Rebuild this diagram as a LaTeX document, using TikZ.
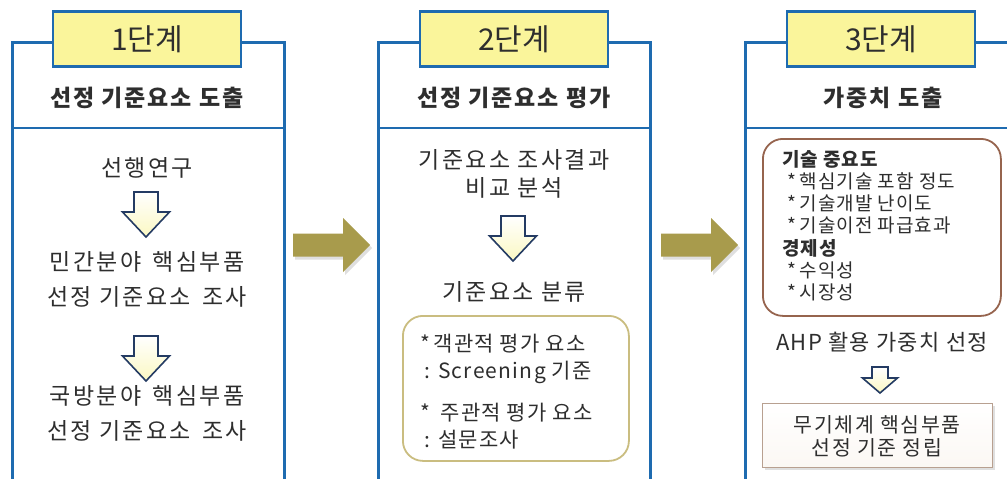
\documentclass[tikz,border=0pt]{standalone}
\usepackage{fontspec}
\setmainfont{Noto Sans CJK KR}
\usetikzlibrary{shadows}
\definecolor{pblue}{HTML}{1E6BB0}
\definecolor{tagy}{HTML}{FAF59B}
\definecolor{olivec}{HTML}{A89B4C}
\definecolor{navy}{HTML}{243B63}
\definecolor{khaki}{HTML}{CABD80}
\definecolor{brownb}{HTML}{96644E}
\definecolor{fbox}{HTML}{B8A090}
\definecolor{txt}{HTML}{2E2E2E}
\definecolor{arrfill}{HTML}{FBF8C2}
\begin{document}
\begin{tikzpicture}[x=1pt,y=-1pt,
  panel/.style={draw=pblue, line width=2.6pt, fill=white, minimum width=272pt, minimum height=470pt, anchor=north west, inner sep=0pt},
  tag/.style={draw=pblue, line width=2.6pt, fill=tagy, minimum width=188pt, minimum height=55pt, inner sep=0pt, font=\fontsize{30}{34}\selectfont, text=txt},
  header/.style={font=\fontsize{23}{26}\selectfont\bfseries\addfontfeature{LetterSpace=8}, text=txt},
  body/.style={font=\fontsize{23}{35}\selectfont\addfontfeature{LetterSpace=10}, text=txt, align=center, inner sep=0pt},
  downarr/.style={draw=navy, line width=1.6pt, top color=white, bottom color=arrfill, line join=miter},
  bigarr/.style={fill=olivec, draw=none, drop shadow={opacity=0.25, shadow xshift=2pt, shadow yshift=-3pt}},
  roundbox/.style={draw=#1, line width=1.8pt, rounded corners=20pt, fill=white, inner sep=0pt, anchor=north west},
  boxtext/.style={font=\fontsize{21}{27}\selectfont\addfontfeature{LetterSpace=6}, text=txt, align=left, anchor=west, inner sep=0pt},
  smalltext/.style={font=\fontsize{19}{22.2}\selectfont\addfontfeature{LetterSpace=5}, text=txt, align=left, anchor=north west, inner sep=0pt},
]
\useasboundingbox (0,0) rectangle (1007,479);
\fill[white] (0,0) rectangle (1007,479);

% panels
\node[panel] (p1) at (11,41) {};
\node[panel] (p2) at (377,41) {};
\node[panel] (p3) at (744,41) {};
\draw[pblue, line width=2.6pt] (p1.west |- 0,128) -- (p1.east |- 0,128);
\draw[pblue, line width=2.6pt] (p2.west |- 0,128) -- (p2.east |- 0,128);
\draw[pblue, line width=2.6pt] (p3.west |- 0,128) -- (p3.east |- 0,128);

% tags
\node[tag] (t1) at (147,39) {1단계};
\node[tag] (t2) at (514,39) {2단계};
\node[tag] (t3) at (881,39) {3단계};

% headers
\node[header] (h1) at (147,98) {선정 기준요소 도출};
\node[header] (h2) at (514,98) {선정 기준요소 평가};
\node[header] (h3) at (883,98) {가중치 도출};

% down arrows (top centre coordinates)
\coordinate (d1) at (146,192);
\coordinate (d2) at (146,336);
\coordinate (d3) at (513,216);
\coordinate (d4) at (880,367);
\draw[downarr] (d1) ++(-12,0) -- ++(24,0) -- ++(0,20) -- ++(11.5,0) -- ++(-23.5,25) -- ++(-23.5,-25) -- ++(11.5,0) -- cycle;
\draw[downarr] (d2) ++(-12,0) -- ++(24,0) -- ++(0,20) -- ++(11.5,0) -- ++(-23.5,25) -- ++(-23.5,-25) -- ++(11.5,0) -- cycle;
\draw[downarr] (d3) ++(-12,0) -- ++(24,0) -- ++(0,20) -- ++(11.5,0) -- ++(-23.5,25) -- ++(-23.5,-25) -- ++(11.5,0) -- cycle;
\draw[downarr] (d4) ++(-8,0) -- ++(16,0) -- ++(0,11) -- ++(9.5,0) -- ++(-17.5,15) -- ++(-17.5,-15) -- ++(9.5,0) -- cycle;

% big arrows (left-middle coordinates)
\coordinate (b1) at (293,245);
\coordinate (b2) at (661,245);
\fill[bigarr] (b1) ++(0,-11.5) -- ++(50,0) -- ++(0,-15.5) -- ++(27,27) -- ++(-27,27) -- ++(0,-15.5) -- ++(-50,0) -- cycle;
\fill[bigarr] (b2) ++(0,-11.5) -- ++(50,0) -- ++(0,-15.5) -- ++(27,27) -- ++(-27,27) -- ++(0,-15.5) -- ++(-50,0) -- cycle;

% panel 1
\node[body] (a1) at (147,168) {선행연구};
\node[body] (a2) at (147,279.5) {민간분야\hspace{0.5em}핵심부품\\선정 기준요소\hspace{0.5em}조사};
\node[body] (a3) at (147,413) {국방분야\hspace{0.5em}핵심부품\\선정 기준요소\hspace{0.5em}조사};

% panel 2
\node[body, font=\fontsize{23}{28}\selectfont\addfontfeature{LetterSpace=10}] (c1) at (514,174) {기준요소 조사결과\\비교 분석};
\node[body] (c2) at (514,292) {기준요소 분류};
\node[roundbox=khaki, minimum width=226pt, minimum height=145pt] (r2) at (402,315) {};
\node[boxtext] (c3) at (420,358.5) {*\,객관적 평가 요소\\\hspace*{0.2em}: Screening 기준};
\node[boxtext] (c4) at (420,426) {*\hspace{0.5em}주관적 평가 요소\\\hspace*{0.2em}: 설문조사};

% panel 3
\node[roundbox=brownb, minimum width=238pt, minimum height=177pt] (r3) at (762,138) {};
\node[smalltext] (e1) at (782,150) {\textbf{기술 중요도}\\
\hspace*{0.3em}*\,핵심기술 포함 정도\\
\hspace*{0.3em}*\,기술개발 난이도\\
\hspace*{0.3em}*\,기술이전 파급효과\\
\textbf{경제성}\\
\hspace*{0.3em}*\,수익성\\
\hspace*{0.3em}*\,시장성};
\node[body, font=\fontsize{22}{24}\selectfont\addfontfeature{LetterSpace=6}] (e2) at (882,342) {AHP 활용 가중치 선정};
\node[draw=fbox, line width=1.4pt, top color=white, bottom color=brown!6, minimum width=230pt, minimum height=64pt, anchor=north west, inner sep=0pt, drop shadow={opacity=0.25, shadow xshift=2pt, shadow yshift=-2pt}] (f1) at (762,403) {};
\node[body, font=\fontsize{20.5}{23}\selectfont\addfontfeature{LetterSpace=8}] (f2) at (877,436.5) {무기체계 핵심부품\\선정 기준 정립};
\end{tikzpicture}
\end{document}
